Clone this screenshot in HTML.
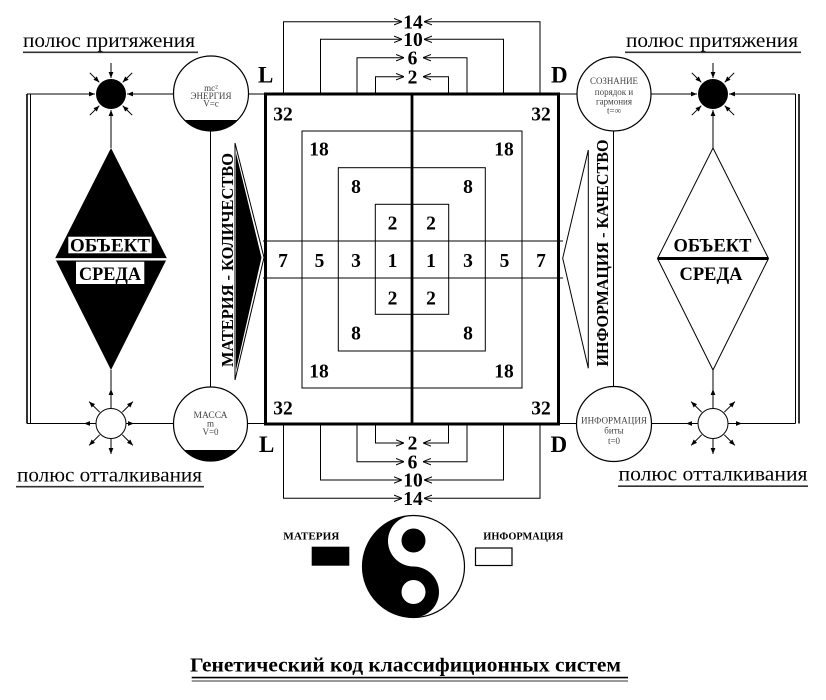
<!DOCTYPE html>
<html><head><meta charset="utf-8">
<style>html,body{margin:0;padding:0;background:#fff;}svg{display:block}</style>
</head>
<body>
<svg width="826" height="700" viewBox="0 0 826 700" xmlns="http://www.w3.org/2000/svg" font-family="'Liberation Serif', 'Noto Serif CJK SC', serif">
<defs>
<marker id="a" viewBox="0 0 10 10" refX="10" refY="5" markerWidth="8" markerHeight="8" markerUnits="userSpaceOnUse" orient="auto"><path d="M0,1 L10,5 L0,9" fill="none" stroke="#000" stroke-width="1.3"/></marker>
<marker id="f" viewBox="0 0 10 10" refX="10" refY="5" markerWidth="6" markerHeight="6" markerUnits="userSpaceOnUse" orient="auto"><path d="M0,1 L10,5 L0,9 Z" fill="#000"/></marker>
</defs>

<!-- top labels -->
<text x="23" y="47" font-size="20" textLength="172" lengthAdjust="spacingAndGlyphs">полюс притяжения</text>
<line x1="23" y1="52.3" x2="198" y2="52.3" stroke="#333" stroke-width="1.6"/>
<text x="626" y="47" font-size="20" textLength="172" lengthAdjust="spacingAndGlyphs">полюс притяжения</text>
<line x1="625" y1="52.3" x2="801" y2="52.3" stroke="#333" stroke-width="1.6"/>

<!-- bottom labels -->
<text x="17" y="481.5" font-size="20" textLength="185" lengthAdjust="spacingAndGlyphs">полюс отталкивания</text>
<line x1="16" y1="486.7" x2="204" y2="486.7" stroke="#333" stroke-width="1.6"/>
<text x="618.5" y="480.5" font-size="20" textLength="189" lengthAdjust="spacingAndGlyphs">полюс отталкивания</text>
<line x1="618" y1="486.2" x2="808" y2="486.2" stroke="#333" stroke-width="1.6"/>

<g stroke="#000" fill="none" stroke-width="1">
<!-- left double line -->
<line x1="27" y1="94" x2="27" y2="423.5" stroke-width="1.6"/>
<line x1="30.5" y1="94" x2="30.5" y2="423.5"/>
<!-- right double line -->
<line x1="795.5" y1="94" x2="795.5" y2="423.5"/>
<line x1="799" y1="94" x2="799" y2="423.5" stroke-width="1.6"/>

<!-- left top horizontal -->
<line x1="27" y1="94" x2="95" y2="94" marker-end="url(#f)"/>
<line x1="173.5" y1="94" x2="127" y2="94" marker-end="url(#f)"/>
<line x1="111" y1="148" x2="111" y2="110" marker-end="url(#f)"/>
<line x1="111" y1="63" x2="111" y2="78" marker-end="url(#f)"/>
<line x1="132.2" y1="72.8" x2="122.7" y2="82.3" marker-end="url(#f)"/>
<line x1="89.8" y1="72.8" x2="99.3" y2="82.3" marker-end="url(#f)"/>
<line x1="132.2" y1="115.2" x2="122.7" y2="105.7" marker-end="url(#f)"/>
<line x1="89.8" y1="115.2" x2="99.3" y2="105.7" marker-end="url(#f)"/>

<!-- right top -->
<line x1="651" y1="94" x2="697" y2="94" marker-end="url(#f)"/>
<line x1="795.5" y1="94" x2="729" y2="94" marker-end="url(#f)"/>
<line x1="713" y1="148" x2="713" y2="110" marker-end="url(#f)"/>
<line x1="713" y1="63" x2="713" y2="78" marker-end="url(#f)"/>
<line x1="734.2" y1="72.8" x2="724.7" y2="82.3" marker-end="url(#f)"/>
<line x1="691.8" y1="72.8" x2="701.3" y2="82.3" marker-end="url(#f)"/>
<line x1="734.2" y1="115.2" x2="724.7" y2="105.7" marker-end="url(#f)"/>
<line x1="691.8" y1="115.2" x2="701.3" y2="105.7" marker-end="url(#f)"/>

<!-- left bottom repel -->
<line x1="27" y1="423.5" x2="96" y2="423.5"/>
<line x1="96" y1="423.5" x2="84" y2="423.5" marker-end="url(#f)"/>
<line x1="126" y1="423.5" x2="173" y2="423.5"/>
<line x1="126" y1="423.5" x2="134" y2="423.5" marker-end="url(#f)"/>
<line x1="111" y1="370" x2="111" y2="408"/>
<line x1="111" y1="408" x2="111" y2="389" marker-end="url(#f)"/>
<line x1="111" y1="439" x2="111" y2="454" marker-end="url(#f)"/>
<line x1="122.3" y1="412.2" x2="132.9" y2="401.6" marker-end="url(#f)"/>
<line x1="99.7" y1="412.2" x2="89.1" y2="401.6" marker-end="url(#f)"/>
<line x1="122.3" y1="434.8" x2="132.9" y2="445.4" marker-end="url(#f)"/>
<line x1="99.7" y1="434.8" x2="89.1" y2="445.4" marker-end="url(#f)"/>

<!-- right bottom repel -->
<line x1="651.5" y1="423.5" x2="698" y2="423.5"/>
<line x1="698" y1="423.5" x2="686" y2="423.5" marker-end="url(#f)"/>
<line x1="728" y1="423.5" x2="795.5" y2="423.5"/>
<line x1="728" y1="423.5" x2="742" y2="423.5" marker-end="url(#f)"/>
<line x1="713" y1="370" x2="713" y2="408"/>
<line x1="713" y1="408" x2="713" y2="389" marker-end="url(#f)"/>
<line x1="713" y1="439" x2="713" y2="454" marker-end="url(#f)"/>
<line x1="724.3" y1="412.2" x2="734.9" y2="401.6" marker-end="url(#f)"/>
<line x1="701.7" y1="412.2" x2="691.1" y2="401.6" marker-end="url(#f)"/>
<line x1="724.3" y1="434.8" x2="734.9" y2="445.4" marker-end="url(#f)"/>
<line x1="701.7" y1="434.8" x2="691.1" y2="445.4" marker-end="url(#f)"/>

<!-- connections to square -->
<line x1="248" y1="94" x2="265" y2="94"/>
<line x1="247" y1="423.5" x2="265" y2="423.5"/>
<line x1="559" y1="94" x2="577" y2="94"/>
<line x1="559" y1="423.5" x2="577" y2="423.5"/>
<!-- vertical connectors -->
<line x1="210.5" y1="131" x2="210.5" y2="387"/>
<line x1="613.5" y1="131" x2="613.5" y2="387"/>
</g>

<!-- pole circles -->
<circle cx="111" cy="94" r="15" fill="#000"/>
<circle cx="713" cy="94" r="15" fill="#000"/>
<circle cx="111" cy="423.5" r="15" fill="#fff" stroke="#000" stroke-width="1"/>
<circle cx="713" cy="423.5" r="15" fill="#fff" stroke="#000" stroke-width="1"/>

<!-- energy circle -->
<circle cx="211" cy="93.5" r="37.5" fill="#fff" stroke="#000" stroke-width="1.2"/>
<path d="M184.5,120 A37.5,37.5 0 0 0 237.5,120 Z" fill="#000"/>
<g font-size="9" fill="#444" text-anchor="middle">
<text x="211" y="91">mc²</text>
<text x="211" y="99" textLength="41" lengthAdjust="spacingAndGlyphs">ЭНЕРГИЯ</text>
<text x="211" y="106.5">V=c</text>
</g>

<!-- massa circle -->
<circle cx="210.5" cy="424" r="37" fill="#fff" stroke="#000" stroke-width="1.2"/>
<path d="M184.2,450 A37,37 0 0 0 236.8,450 Z" fill="#000"/>
<g font-size="9" fill="#444" text-anchor="middle">
<text x="210.5" y="418" textLength="34" lengthAdjust="spacingAndGlyphs">МАССА</text>
<text x="210.5" y="426.5">m</text>
<text x="210.5" y="435">V=0</text>
</g>

<!-- soznanie circle -->
<circle cx="614" cy="94" r="37" fill="#fff" stroke="#000" stroke-width="1.2"/>
<g font-size="9" fill="#444" text-anchor="middle">
<text x="614" y="84" textLength="48" lengthAdjust="spacingAndGlyphs">СОЗНАНИЕ</text>
<text x="614" y="95">порядок и</text>
<text x="614" y="104.5">гармония</text>
<text x="614" y="113.5">t=∞</text>
</g>

<!-- info circle -->
<circle cx="614" cy="424" r="37.5" fill="#fff" stroke="#000" stroke-width="1.2"/>
<g font-size="9" fill="#444" text-anchor="middle">
<text x="614" y="423.5" textLength="66" lengthAdjust="spacingAndGlyphs">ИНФОРМАЦИЯ</text>
<text x="614" y="433.5">биты</text>
<text x="614" y="444">t=0</text>
</g>

<!-- left diamond -->
<polygon points="111,148 167,258.5 111,370 55,258.5" fill="#000"/>
<line x1="55" y1="259.3" x2="167" y2="259.3" stroke="#fff" stroke-width="2.4"/>
<rect x="68.3" y="236.7" width="83.4" height="16.6" fill="#fff"/>
<rect x="76" y="261.7" width="68.3" height="22.3" fill="#fff"/>
<text x="110" y="251.5" font-size="19" font-weight="bold" text-anchor="middle" textLength="80" lengthAdjust="spacingAndGlyphs">ОБЪЕКТ</text>
<text x="110" y="280" font-size="19" font-weight="bold" text-anchor="middle" textLength="62" lengthAdjust="spacingAndGlyphs">СРЕДА</text>

<!-- right diamond -->
<polygon points="713,148 768.5,258.5 713,370 657.5,258.5" fill="#fff" stroke="#000" stroke-width="1"/>
<line x1="657.5" y1="258.5" x2="768.5" y2="258.5" stroke="#000" stroke-width="3"/>
<text x="712.5" y="251.5" font-size="19" font-weight="bold" text-anchor="middle" textLength="78" lengthAdjust="spacingAndGlyphs">ОБЪЕКТ</text>
<text x="711" y="280" font-size="19" font-weight="bold" text-anchor="middle" textLength="63" lengthAdjust="spacingAndGlyphs">СРЕДА</text>

<!-- materia triangle -->
<polygon points="235,143 264,257.5 235,380" fill="#fff" stroke="#000" stroke-width="1"/>
<polygon points="236,153 261.5,257.5 236,370" fill="#000"/>
<text transform="translate(233,260) rotate(-90)" font-size="17" font-weight="bold" text-anchor="middle" textLength="214" lengthAdjust="spacingAndGlyphs">МАТЕРИЯ - КОЛИЧЕСТВО</text>

<!-- info triangle -->
<polygon points="588.3,150 562.7,258.3 588.3,368.3" fill="#fff" stroke="#000" stroke-width="1"/>
<text transform="translate(608,253) rotate(-90)" font-size="17" font-weight="bold" text-anchor="middle" textLength="227" lengthAdjust="spacingAndGlyphs">ИНФОРМАЦИЯ - КАЧЕСТВО</text>

<!-- central square -->
<g fill="none" stroke="#000">
<rect x="302" y="131" width="220" height="257" stroke-width="1"/>
<rect x="338.3" y="167.7" width="147" height="183.3" stroke-width="1"/>
<rect x="375.3" y="204.3" width="73.4" height="110" stroke-width="1"/>
<line x1="263" y1="241" x2="563" y2="241" stroke-width="1"/>
<line x1="263" y1="278" x2="563" y2="278" stroke-width="1"/>
<rect x="265.5" y="94" width="293" height="330" stroke-width="3"/>
<line x1="412" y1="93" x2="412" y2="425" stroke-width="2.8"/>
</g>

<g font-size="19.5" font-weight="bold" text-anchor="middle">
<text x="283" y="120.3">32</text><text x="541" y="120.3">32</text>
<text x="283" y="414.3">32</text><text x="541" y="414.3">32</text>
<text x="319" y="155.3">18</text><text x="504" y="155.3">18</text>
<text x="319" y="377.3">18</text><text x="504" y="377.3">18</text>
<text x="356" y="193">8</text><text x="468" y="193">8</text>
<text x="356" y="339.3">8</text><text x="468" y="339.3">8</text>
<text x="392.5" y="229.6">2</text><text x="431" y="229.6">2</text>
<text x="392.5" y="304.6">2</text><text x="431" y="304.6">2</text>
<text x="283" y="267">7</text><text x="319.5" y="267">5</text><text x="356" y="267">3</text><text x="392.5" y="267">1</text>
<text x="431" y="267">1</text><text x="468" y="267">3</text><text x="504.5" y="267">5</text><text x="541" y="267">7</text>
</g>

<!-- top brackets -->
<g fill="none" stroke="#000" stroke-width="1">
<path d="M283.5,93 V21.7 H402" marker-end="url(#a)"/>
<path d="M540,93 V21.7 H424" marker-end="url(#a)"/>
<path d="M320.5,93 V39.3 H402" marker-end="url(#a)"/>
<path d="M503.5,93 V39.3 H424" marker-end="url(#a)"/>
<path d="M357,93 V57.7 H404" marker-end="url(#a)"/>
<path d="M467,93 V57.7 H423" marker-end="url(#a)"/>
<path d="M375.5,93 V76.7 H404" marker-end="url(#a)"/>
<path d="M448.5,93 V76.7 H423" marker-end="url(#a)"/>

<path d="M375.5,425 V443 H404" marker-end="url(#a)"/>
<path d="M448.5,425 V443 H423" marker-end="url(#a)"/>
<path d="M357,425 V461.7 H404" marker-end="url(#a)"/>
<path d="M467,425 V461.7 H423" marker-end="url(#a)"/>
<path d="M320.5,425 V480 H402" marker-end="url(#a)"/>
<path d="M503.5,425 V480 H424" marker-end="url(#a)"/>
<path d="M283.5,425 V498.3 H402" marker-end="url(#a)"/>
<path d="M540,425 V498.3 H424" marker-end="url(#a)"/>
</g>
<g font-size="19.5" font-weight="bold" text-anchor="middle">
<text x="413" y="28.3">14</text>
<text x="413" y="46">10</text>
<text x="412.5" y="64.3">6</text>
<text x="412.5" y="83.3">2</text>
<text x="412.5" y="449.6">2</text>
<text x="412.5" y="468.3">6</text>
<text x="413" y="486.6">10</text>
<text x="413" y="505">14</text>
</g>

<!-- L / D -->
<g font-size="23" font-weight="bold">
<text x="258" y="82.5">L</text>
<text x="551" y="82.5">D</text>
<text x="259" y="452">L</text>
<text x="550.5" y="452">D</text>
</g>

<!-- yin yang -->
<circle cx="413.5" cy="566.5" r="51" fill="#fff" stroke="#000" stroke-width="1.2"/>
<path d="M413.5,515.5 A51,51 0 0 0 413.5,617.5 A25.5,25.5 0 0 0 413.5,566.5 A25.5,25.5 0 0 1 413.5,515.5 Z" fill="#000"/>
<circle cx="413.5" cy="540.5" r="12" fill="#000"/>
<circle cx="413.5" cy="592" r="12" fill="#fff"/>

<text x="283.3" y="539.3" font-size="10.5" font-weight="bold" textLength="56" lengthAdjust="spacingAndGlyphs">МАТЕРИЯ</text>
<rect x="311.7" y="546.7" width="37.6" height="19" fill="#000"/>
<text x="483.3" y="539.3" font-size="10.5" font-weight="bold" textLength="80" lengthAdjust="spacingAndGlyphs">ИНФОРМАЦИЯ</text>
<rect x="475.5" y="548" width="36.5" height="17.5" fill="#fff" stroke="#000" stroke-width="1.2"/>

<!-- title -->
<text x="190" y="671.7" font-size="20" font-weight="bold" textLength="431" lengthAdjust="spacingAndGlyphs">Генетический код классифиционных систем</text>
<line x1="191.7" y1="677.6" x2="628" y2="677.6" stroke="#000" stroke-width="1.6"/>
<line x1="191.7" y1="681" x2="628" y2="681" stroke="#333" stroke-width="1"/>
</svg>
</body></html>
